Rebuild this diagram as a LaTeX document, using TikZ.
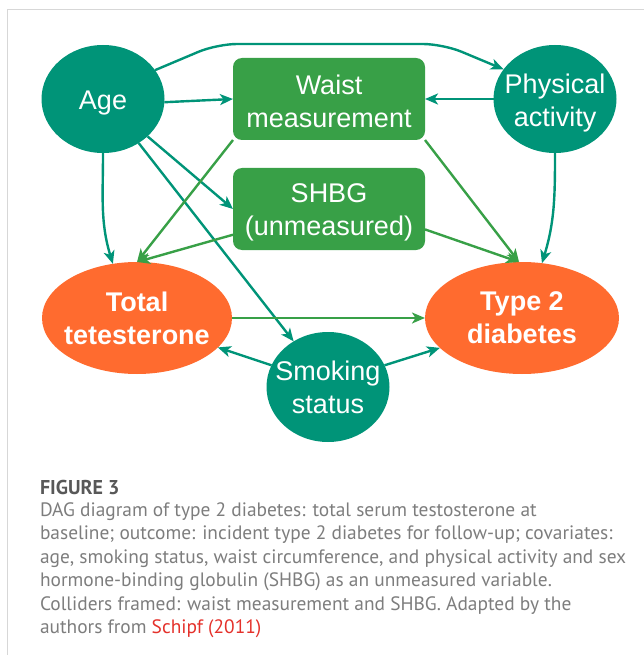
\documentclass[tikz,border=0pt]{standalone}
\usepackage{fontspec}
\setmainfont{Liberation Sans}
\newfontfamily\capfont{PT Sans}
\usetikzlibrary{shapes.geometric,arrows.meta,calc}
\definecolor{teal1}{RGB}{0,148,120}
\definecolor{green1}{RGB}{56,160,71}
\definecolor{orange1}{RGB}{255,107,47}
\definecolor{capgray}{RGB}{125,125,125}
\definecolor{figgray}{RGB}{88,88,88}
\definecolor{linkred}{RGB}{228,49,43}
\definecolor{framegray}{RGB}{215,215,215}
\begin{document}
\begin{tikzpicture}[x=1pt,y=-1pt,
  every node/.style={inner sep=0pt, outer sep=0pt, font=\fontsize{27}{33}\selectfont, text=white, align=center},
  oval/.style={ellipse, fill=teal1},
  outc/.style={ellipse, fill=orange1},
  boldtext/.style={font=\fontsize{27}{33}\selectfont\bfseries},
  cbox/.style={rectangle, rounded corners=9pt, fill=green1, minimum width=192pt, minimum height=82pt},
  arrowtip/.style={-{Stealth[length=13pt,width=11pt,inset=3.5pt]}},
  tl/.style={draw=teal1, line width=2.4pt, arrowtip},
  gl/.style={draw=green1, line width=2.4pt, arrowtip},
  captext/.style={anchor=base west, text=capgray, font=\capfont\fontsize{19.4}{23}\selectfont, align=left}
]
\path[use as bounding box] (0,0) rectangle (644,655);
\draw[framegray, line width=1pt] (7,655) -- (7,10) -- (644,10);

% shapes
\node[oval, minimum width=123pt, minimum height=108pt] (age) at (103,99) {};
\node[oval, minimum width=123pt, minimum height=108pt] (phys) at (555,99) {};
\node[cbox] (waist) at (329,99) {};
\node[cbox] (shbg) at (329,209) {};
\node[outc, minimum width=190pt, minimum height=112pt] (tot) at (137,318) {};
\node[outc, minimum width=194pt, minimum height=112pt] (t2) at (522,318) {};
\node[oval, minimum width=123pt, minimum height=110pt] (smoke) at (328,387) {};

% texts
\node[yshift=-4.5pt] (ageT) at (age) {Age};
\node[yshift=-4.5pt] (physT) at (phys) {Physical\\activity};
\node[yshift=-2.5pt] (waistT) at (waist) {Waist\\measurement};
\node[yshift=-3.5pt] (shbgT) at (shbg) {SHBG\\(unmeasured)};
\node[boldtext] (totT) at (tot) {Total\\tetesterone};
\node[boldtext] (t2T) at (t2) {Type 2\\diabetes};
\node (smokeT) at (smoke) {Smoking\\status};

% edges
\draw[tl, rounded corners=20pt] (age.29) -- (217,44) -- (443,44) -- (phys.150);
\draw[tl] (age.-3) -- (waist.west);
\draw[tl] (phys.west) -- (waist.east);
\draw[tl] (age.-40) -- (shbg.west);
\draw[tl] (age.-51) -- (smoke.127);
\draw[tl] (age.south) to[out=-90,in=107] (tot.114);
\draw[tl] (phys.south) to[out=-90,in=73] (t2.70);
\draw[gl] (waist.south west) -- (tot.north);
\draw[gl] (waist.south east) -- (t2.93);
\draw[gl] (shbg.195) -- (tot.north);
\draw[gl] (shbg.-12) -- (t2.93);
\draw[gl, line width=2pt] (tot.east) -- (t2.west);
\draw[tl] (smoke.159) -- (tot.-20);
\draw[tl] (smoke.21) -- (t2.200);

% caption
\node[captext, text=figgray, font=\capfont\bfseries\fontsize{20}{23}\selectfont] (fig) at (40,494) {FIGURE 3};
\node[captext] (c1) at (40,516) {DAG diagram of type 2 diabetes: total serum testosterone at};
\node[captext] (c2) at (40,539) {baseline; outcome: incident type 2 diabetes for follow-up; covariates:};
\node[captext] (c3) at (40,563) {age, smoking status, waist circumference, and physical activity and sex};
\node[captext] (c4) at (40,586) {hormone-binding globulin (SHBG) as an unmeasured variable.};
\node[captext] (c5) at (40,610) {Colliders framed: waist measurement and SHBG. Adapted by the};
\node[captext] (c6) at (40,633) {authors from {\color{linkred}Schipf (2011)}};
\end{tikzpicture}
\end{document}
